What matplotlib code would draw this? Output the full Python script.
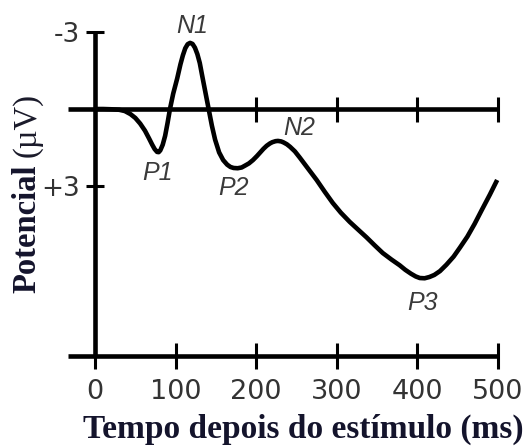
import matplotlib
matplotlib.use("Agg")
import matplotlib.pyplot as plt

# ERP waveform (ms, microvolts; positive drawn downward)
tempo = [0, 10, 20, 30, 37, 44, 50, 56, 62, 67, 71, 74, 77, 79, 81, 84, 87,
         90, 93, 97, 102, 106, 109, 112, 115, 118, 121, 124, 127, 130, 133,
         137, 141, 145, 149, 154, 159, 164, 168, 172, 177, 182, 186, 191, 196,
         201, 205, 209, 213, 217, 220, 224, 227, 231, 234, 238, 242, 248, 254,
         264, 275, 285, 295, 305, 316, 327, 337, 347, 357, 368, 378, 385, 392,
         398, 403, 409, 415, 421, 428, 436, 445, 453, 462, 471, 480, 490, 499]
potencial = [0, 0, 0.01, 0.03, 0.08, 0.2, 0.35, 0.57, 0.85, 1.15, 1.4, 1.57,
             1.68, 1.69, 1.62, 1.4, 1.05, 0.55, 0, -0.6, -1.2, -1.75, -2.1,
             -2.38, -2.54, -2.59, -2.55, -2.4, -2.15, -1.8, -1.3, -0.65, 0,
             0.65, 1.2, 1.7, 2.0, 2.18, 2.27, 2.31, 2.32, 2.29, 2.22, 2.13, 2.0,
             1.84, 1.7, 1.56, 1.44, 1.35, 1.3, 1.26, 1.25, 1.27, 1.31, 1.38,
             1.48, 1.66, 1.9, 2.32, 2.78, 3.24, 3.68, 4.06, 4.42, 4.74, 5.03,
             5.34, 5.64, 5.9, 6.12, 6.3, 6.45, 6.56, 6.62, 6.63, 6.58, 6.5,
             6.35, 6.1, 5.78, 5.42, 5.0, 4.5, 3.95, 3.35, 2.78]

# component labels: name, time, baseline value
comp_nomes = ["P1", "N1", "P2", "N2", "P3"]
comp_t = [78, 120, 172, 253, 406]
comp_v = [2.78, -2.98, 3.37, 1.0, 7.88]

x_ticks = [0, 100, 200, 300, 400, 500]
y_ticks = [-3, 3]
y_ticklabels = ["-3", "+3"]
zero_ticks = [200, 300, 400, 500]

base_v = 9.69      # level of the lower time axis
x_start = -33.5    # left end of horizontal axes
navy = "#14142c"
lw = 3.3

fig = plt.figure(figsize=(5.24, 4.46), dpi=100)
ax = fig.add_axes([0, 0, 1, 1])
ax.set_xlim(-117.9, 532.3)
ax.set_ylim(13.2, -4.27)
ax.patch.set_alpha(0)

ax.plot(tempo, potencial, color="black", lw=lw, solid_capstyle="butt",
        solid_joinstyle="round", zorder=3)

# zero line with its own ticks
ax.hlines(0, x_start, 500, color="black", lw=lw, zorder=2)
ax.plot(zero_ticks, [0] * len(zero_ticks), ls="none", marker="|",
        markersize=18, markeredgewidth=2.2, color="black", zorder=2)

for s in ["top", "right"]:
    ax.spines[s].set_visible(False)
ax.spines["left"].set_position(("data", 0))
ax.spines["left"].set_bounds(-3, base_v)
ax.spines["bottom"].set_position(("data", base_v))
ax.spines["bottom"].set_bounds(x_start, 500)
for s in ["left", "bottom"]:
    ax.spines[s].set_linewidth(lw)
    ax.spines[s].set_capstyle("butt")

ax.set_xticks(x_ticks)
ax.set_yticks(y_ticks)
ax.set_yticklabels(y_ticklabels)
ax.tick_params(axis="x", direction="inout", length=18.5, width=2.2,
               pad=7, labelsize=19.5, labelcolor="#333333")
ax.tick_params(axis="y", direction="inout", length=13.5, width=2.2,
               pad=4, labelsize=19, labelcolor="#333333")

for nome, t, v in zip(comp_nomes, comp_t, comp_v):
    ax.text(t, v, nome, ha="center", va="baseline", fontsize=18,
            style="italic", family="Liberation Sans", color="#3a3a3a")

fig.text(303.5 / 524, 8 / 446, "Tempo depois do estímulo (ms)",
         ha="center", va="baseline", fontsize=24, fontweight="bold",
         family="Liberation Serif", color=navy)
fig.text(35 / 524, (446 - 293) / 446, "Potencial", rotation=90,
         rotation_mode="anchor", ha="left", va="baseline", fontsize=23.5,
         fontweight="bold", family="Liberation Serif", color=navy)
fig.text(35 / 524, (446 - 157) / 446, "(µV)", rotation=90,
         rotation_mode="anchor", ha="left", va="baseline", fontsize=23.5,
         family="Liberation Serif", color="#1a1a2a")

fig.savefig("out.png", dpi=100)
